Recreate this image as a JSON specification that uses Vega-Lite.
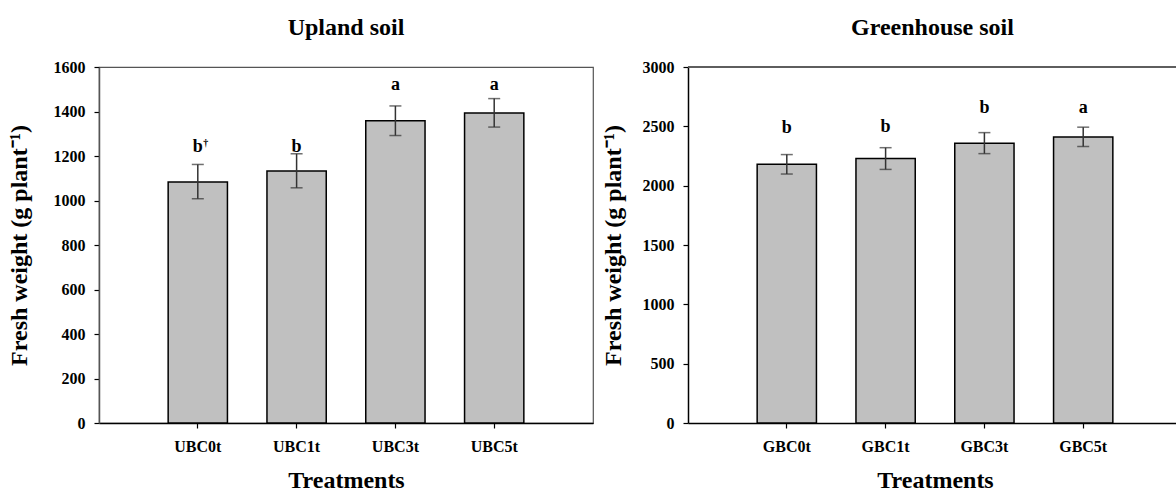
{
  "$schema": "https://vega.github.io/schema/vega-lite/v6.json",
  "padding": {"left": 6, "top": 15, "right": 0, "bottom": 0},
  "spacing": 7,
  "config": {
    "font": "Liberation Serif",
    "view": {"stroke": "#555", "strokeWidth": 1.2},
    "axis": {
      "labelFont": "Liberation Serif", "labelFontWeight": "bold", "labelFontSize": 16, "labelColor": "#000",
      "titleFont": "Liberation Serif", "titleFontWeight": "bold", "titleFontSize": 24, "titleColor": "#000",
      "tickColor": "#000", "tickSize": 5, "tickWidth": 1.2, "domainColor": "#000", "domainWidth": 1.5, "grid": false
    },
    "title": {"font": "Liberation Serif", "fontSize": 24, "fontWeight": "bold", "color": "#000", "offset": 19, "frame": "group"}
  },
  "hconcat": [
    {
      "title": "Upland soil",
      "width": 494,
      "height": 356,
      "data": {"values": [
        {"treatment": "UBC0t", "weight": 1083, "lo": 1008, "hi": 1162, "letter": "b", "letter_y": 1220, "sup": "†"},
        {"treatment": "UBC1t", "weight": 1133, "lo": 1057, "hi": 1210, "letter": "b", "letter_y": 1220, "sup": ""},
        {"treatment": "UBC3t", "weight": 1358, "lo": 1292, "hi": 1425, "letter": "a", "letter_y": 1495, "sup": ""},
        {"treatment": "UBC5t", "weight": 1393, "lo": 1330, "hi": 1458, "letter": "a", "letter_y": 1495, "sup": ""}
      ]},
      "encoding": {
        "x": {"field": "treatment", "type": "nominal", "sort": null,
          "scale": {"paddingInner": 0.4, "paddingOuter": 0.7},
          "axis": {"title": "Treatments", "labelAngle": 0, "labelPadding": 10, "titlePadding": 14}}
      },
      "layer": [
        {"mark": {"type": "bar", "fill": "#c0c0c0", "stroke": "#000", "strokeWidth": 1.5},
         "encoding": {"y": {"field": "weight", "type": "quantitative", "scale": {"domain": [0, 1600]},
           "axis": {"title": "Fresh weight (g plant⁻¹)", "format": "d", "values": [0, 200, 400, 600, 800, 1000, 1200, 1400, 1600], "labelPadding": 9, "titlePadding": 22, "domainColor": "#555"}}}},
        {"mark": {"type": "rule", "color": "#333", "strokeWidth": 1.5},
         "encoding": {"y": {"field": "lo", "type": "quantitative"}, "y2": {"field": "hi"}}},
        {"mark": {"type": "tick", "color": "#333", "size": 12, "thickness": 1.5},
         "encoding": {"y": {"field": "lo", "type": "quantitative"}}},
        {"mark": {"type": "tick", "color": "#333", "size": 12, "thickness": 1.5},
         "encoding": {"y": {"field": "hi", "type": "quantitative"}}},
        {"mark": {"type": "text", "fontSize": 18, "fontWeight": "bold", "baseline": "alphabetic", "color": "#000"},
         "encoding": {"y": {"field": "letter_y", "type": "quantitative"}, "text": {"field": "letter"}}},
        {"mark": {"type": "text", "fontSize": 10, "fontWeight": "bold", "baseline": "alphabetic", "dx": 8, "dy": -6, "color": "#000"},
         "encoding": {"y": {"field": "letter_y", "type": "quantitative"}, "text": {"field": "sup"}}}
      ]
    },
    {
      "title": "Greenhouse soil",
      "width": 489,
      "height": 356,
      "view": {"stroke": null},
      "data": {"values": [
        {"treatment": "GBC0t", "weight": 2180, "lo": 2098, "hi": 2262, "letter": "b", "letter_y": 2440},
        {"treatment": "GBC1t", "weight": 2228, "lo": 2137, "hi": 2320, "letter": "b", "letter_y": 2450},
        {"treatment": "GBC3t", "weight": 2358, "lo": 2270, "hi": 2447, "letter": "b", "letter_y": 2610},
        {"treatment": "GBC5t", "weight": 2410, "lo": 2330, "hi": 2493, "letter": "a", "letter_y": 2612}
      ]},
      "layer": [
        {"mark": {"type": "bar", "fill": "#c0c0c0", "stroke": "#000", "strokeWidth": 1.5},
         "encoding": {
           "x": {"field": "treatment", "type": "nominal", "sort": null,
             "scale": {"paddingInner": 0.4, "paddingOuter": 0.7, "range": [0, 494]},
             "axis": {"title": "Treatments", "labelAngle": 0, "labelPadding": 10, "titlePadding": 14}},
           "y": {"field": "weight", "type": "quantitative", "scale": {"domain": [0, 3000]},
           "axis": {"title": "Fresh weight (g plant⁻¹)", "format": "d", "values": [0, 500, 1000, 1500, 2000, 2500, 3000], "labelPadding": 9, "titlePadding": 17, "domainColor": "#000"}}}},
        {"mark": {"type": "rule", "color": "#555", "strokeWidth": 1.2},
         "encoding": {"y": {"datum": 3000}}},
        {"mark": {"type": "rule", "color": "#333", "strokeWidth": 1.5},
         "encoding": {"x": {"field": "treatment", "type": "nominal", "sort": null}, "y": {"field": "lo", "type": "quantitative"}, "y2": {"field": "hi"}}},
        {"mark": {"type": "tick", "color": "#333", "size": 12, "thickness": 1.5},
         "encoding": {"x": {"field": "treatment", "type": "nominal", "sort": null}, "y": {"field": "lo", "type": "quantitative"}}},
        {"mark": {"type": "tick", "color": "#333", "size": 12, "thickness": 1.5},
         "encoding": {"x": {"field": "treatment", "type": "nominal", "sort": null}, "y": {"field": "hi", "type": "quantitative"}}},
        {"mark": {"type": "text", "fontSize": 18, "fontWeight": "bold", "baseline": "alphabetic", "color": "#000"},
         "encoding": {"x": {"field": "treatment", "type": "nominal", "sort": null}, "y": {"field": "letter_y", "type": "quantitative"}, "text": {"field": "letter"}}}
      ]
    }
  ]
}
